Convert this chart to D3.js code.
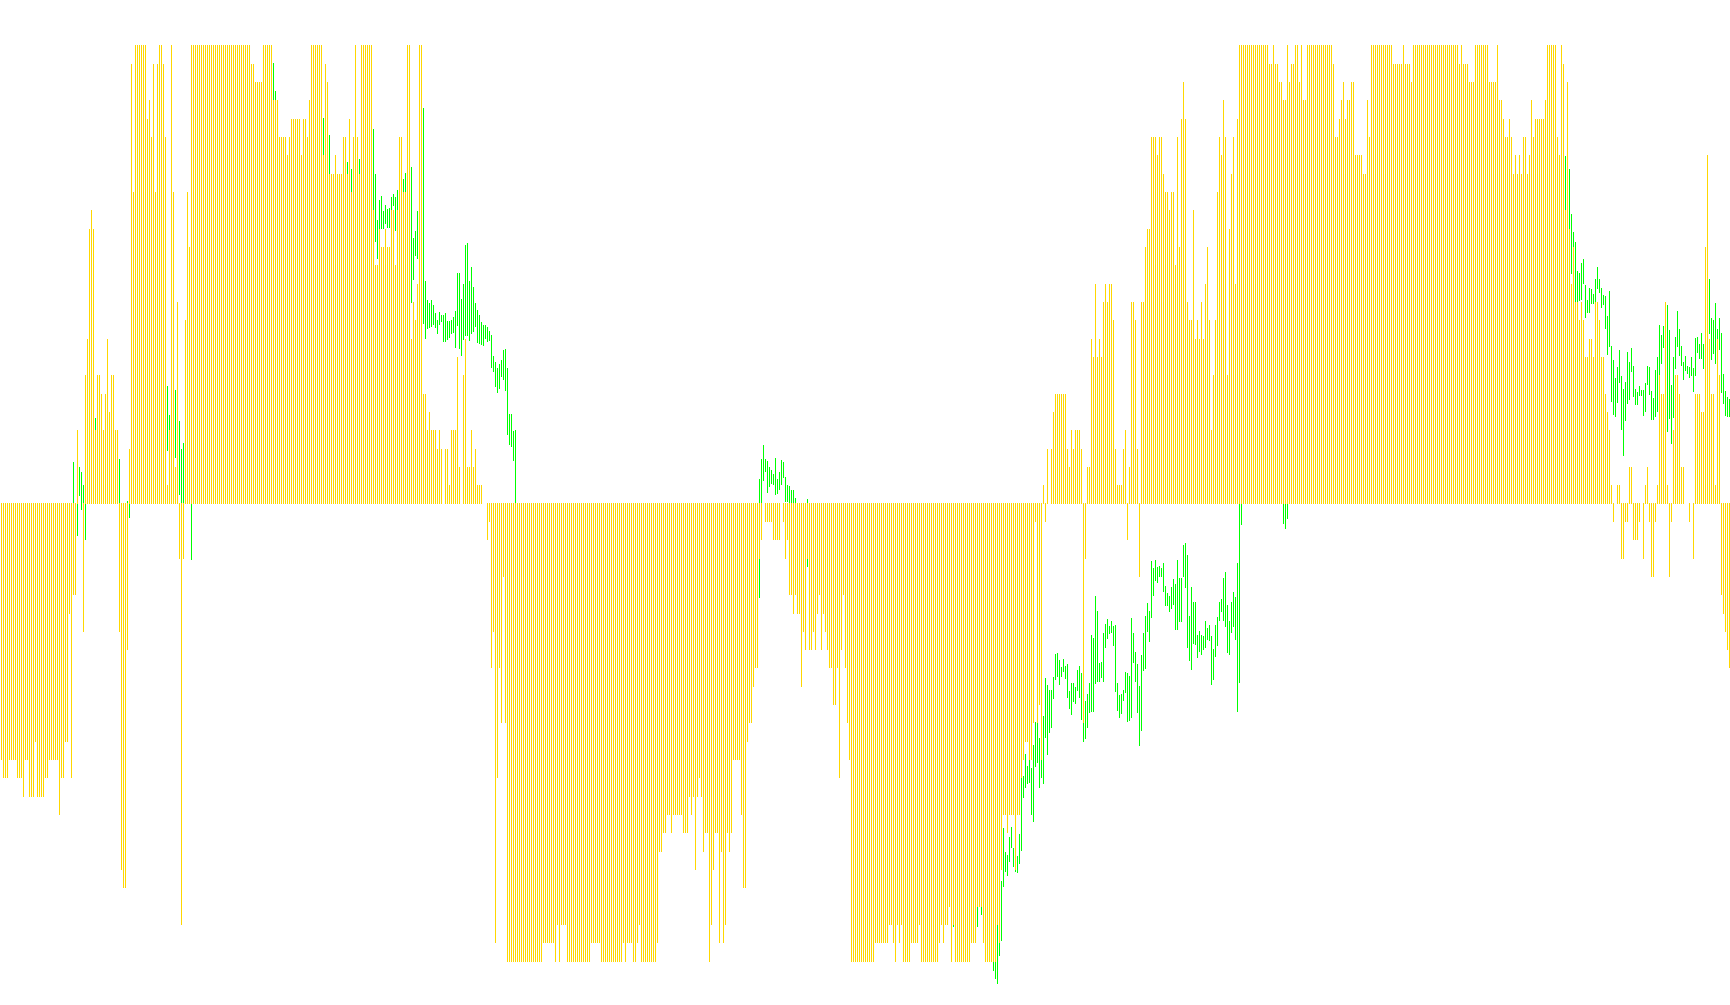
<!DOCTYPE html>
<html><head><meta charset="utf-8">
<script src="https://cdn.jsdelivr.net/npm/d3@7"></script>
<style>html,body{margin:0;padding:0;background:#fff}svg{display:block}</style>
</head><body><svg id="c" width="1730" height="1005"></svg>
<script>
// Oscillator value of every bar, in steps (+25 / -25 are the clipped limits)
const yellowLevels = [
-14,-15,-15,-15,-14,-14,-14,-14,-15,-15,-15,-16,-14,-14,-16,-16,-16,-13,-16,-16,-16,-16,-15,-15,-14,-14,-14,-14,-14,-17,-15,-15,-13,-13,-6,-15,-5,-5,
4,0,0,-7,7,9,15,16,15,4,7,7,6,4,6,9,5,7,7,4,4,-7,-20,-21,-21,-8,3,24,17,
25,25,25,25,25,25,21,22,20,24,17,24,25,25,24,20,1,4,25,17,2,11,-3,-23,-3,10,17,14,
25,25,25,25,25,25,25,25,25,25,25,25,25,25,25,25,25,25,25,25,25,25,25,25,25,25,25,25,25,25,
24,24,23,23,23,
23,25,25,25,25,25,22,22,22,20,20,20,20,19,20,21,21,21,21,21,19,21,21,20,22,25,25,25,25,25,25,
19,24,23,18,18,18,19,18,18,18,20,20,18,21,17,20,25,20,18,25,25,25,25,25,25,
16,13,13,15,14,14,15,14,14,16,16,13,16,20,20,17,17,25,25,9,11,10,12,25,25,
6,6,4,5,4,4,4,3,4,3,0,3,3,1,4,4,4,8,2,0,7,9,2,2,4,2,3,1,1,1,0,0,
-2,-1,-9,-7,-24,-15,-9,-12,-4,-12,
-25,-25,-25,-25,-25,-25,-25,-25,-25,-25,-25,-25,-25,-25,-25,-25,-25,-25,
-24,-24,-24,-24,-24,-24,-25,-23,-25,-23,-23,-23,
-25,-25,-25,-25,-25,-25,-25,-25,-25,-25,-25,-25,
-24,-24,-24,-24,-24,
-25,-25,-25,-25,-25,-25,-25,-25,-25,-25,-25,
-24,-25,-24,-24,-24,-25,-25,-24,-23,
-25,-25,-25,-25,-25,-25,-25,-25,
-24,-19,-19,-18,-18,-17,-17,-18,-17,-17,-17,-17,-17,-18,-18,-18,-16,-17,-16,-20,-16,-15,-16,-19,-18,-18,-25,-23,-20,-18,-18,-24,-19,-24,-23,-18,-19,-18,-14,-14,-14,-14,
-17,-21,-21,-13,-12,-12,-10,-9,-9,-3,-2,0,-1,-1,-1,-1,-2,-2,-2,-2,0,-1,-3,-2,-5,-5,-6,-5,-6,-6,-10,-7,-8,-3,-8,-8,-7,-8,-6,-5,-8,-6,-7,-8,-9,-9,-11,-11,-9,-15,-8,-5,-9,-12,-14,
-25,-25,-25,-25,-25,-25,-25,-25,-25,-25,-25,-25,
-24,-24,-24,-24,-24,-24,-24,-23,-23,-24,-25,-23,-24,-23,
-25,-25,-25,-25,-24,-24,-24,-24,-23,
-25,-25,-25,-25,-25,-25,-25,-25,-25,
-24,-23,-24,-23,-23,-22,-25,-23,
-25,-25,-25,-25,-25,-25,-25,-25,
-24,-24,-24,-22,-22,-22,-24,
-25,-25,-25,-25,-25,-25,
-23,-24,
-20,-17,-17,-18,-17,-17,-17,-20,-17,-17,-15,-14,-13,-13,-14,-14,-12,-1,-12,-11,-14,1,-1,3,0,3,
5,6,6,6,6,6,6,3,2,4,3,4,4,4,3,-12,-3,2,2,9,8,12,8,9,8,11,12,11,12,12,10,3,1,1,1,3,4,-2,2,11,11,10,3,-4,11,11,14,15,15,20,20,20,19,20,20,18,17,17,16,17,17,13,20,14,21,23,21,11,10,10,16,9,10,9,11,9,12,14,10,4,7,10,17,20,19,22,20,7,15,18,20,12,21,
25,25,25,25,25,25,25,25,25,25,25,25,25,25,25,
24,24,25,24,24,23,23,22,22,25,23,24,24,25,25,23,25,22,22,
25,25,25,25,25,25,25,25,25,25,25,25,25,
24,20,20,21,22,23,21,22,22,23,23,19,19,19,19,18,18,22,20,
25,25,25,25,25,25,25,25,25,25,25,
24,24,24,24,24,25,24,24,24,23,
25,25,25,25,25,25,25,25,25,25,25,25,25,25,25,25,25,25,25,25,25,25,25,
24,25,24,24,24,23,23,23,
25,25,25,25,25,25,25,
23,23,23,23,25,22,22,21,20,20,21,20,18,19,18,19,18,20,20,18,19,22,20,21,21,21,21,21,22,
25,25,25,25,25,
20,19,25,24,16,23,15,12,14,11,11,10,11,10,8,8,9,9,8,11,11,10,8,8,6,5,4,1,-1,0,1,1,-3,-3,-1,-1,2,2,-2,-2,-2,-1,0,-3,1,2,-1,-4,-4,-1,1,7,6,6,11,1,-4,-1,4,7,7,6,2,2,0,0,-1,0,-3,6,6,6,5,5,14,19,9,6,6,1,9,7,-5,-6,-7,-8,-9
];
// High-low ranges of the second series, only where they show; raw unit = 1/55 step
const greenIndex = [36,38,39,40,41,42,47,59,63,64,83,84,87,89,90,91,95,
136,137,161,164,173,175,179,186,187,188,189,190,191,192,193,194,195,196,197,198,201,202,205,206,207,208,
211,212,213,214,215,216,217,218,219,220,221,222,223,224,225,226,227,228,229,230,231,232,233,234,235,236,237,238,239,240,241,242,243,244,245,246,247,248,249,250,251,252,253,254,255,256,257,
379,380,381,382,383,384,385,386,387,388,389,390,391,392,393,394,395,396,397,403,476,488,490,496,497,498,499,
500,501,502,503,504,505,506,507,508,509,510,511,512,513,514,515,516,517,518,519,520,521,522,523,524,525,526,527,528,529,530,531,532,533,534,535,536,537,538,539,540,541,542,543,544,545,546,547,548,549,550,551,552,553,554,555,556,557,558,559,560,561,562,563,564,565,566,567,568,569,570,571,572,573,574,575,576,577,578,579,580,581,582,583,584,585,586,587,588,589,590,591,592,593,594,595,596,597,598,599,600,601,602,603,604,605,606,607,608,609,610,611,612,613,614,615,616,617,618,619,620,641,642,643,
782,784,785,786,787,788,789,790,791,792,793,794,795,796,797,798,799,800,801,802,803,804,805,806,807,808,809,810,811,812,813,814,815,816,817,818,819,820,821,822,823,824,825,826,827,828,829,830,831,833,834,835,836,837,838,839,840,841,842,843,844,845,846,847,848,849,850,851,854,855,856,857,858,859,860,861,862,863,864];
const greenHigh = [125,0,110,95,56,0,257,134,8,0,353,266,341,248,164,182,0,
1322,1238,1157,1106,1025,1004,1034,1124,989,851,911,923,878,896,884,887,920,929,920,941,974,992,1010,797,818,878,
1187,668,611,602,611,596,572,551,575,566,566,572,548,548,551,560,578,692,692,614,659,776,782,668,710,650,602,581,566,545,536,536,530,518,506,443,425,407,419,431,461,464,407,269,269,218,221,
73,133,175,133,127,109,100,88,136,73,94,130,124,79,55,52,40,40,16,13,-1265,-1210,-1211,-1375,-1375,-1265,-1319,
-1133,-974,-1046,-1055,-1001,-971,-1034,-1100,-1058,-992,-824,-818,-752,-788,-770,-794,-725,-656,-659,-704,-770,-638,-524,-545,-560,-560,-521,-452,-449,-470,-491,-467,-488,-482,-563,-539,-539,-551,-500,-488,-509,-659,-593,-572,-539,-395,-404,-278,-323,-479,-476,-389,-362,-347,-368,-353,-368,-365,-539,-575,-572,-560,-506,-509,-518,-344,-389,-446,-482,-548,-455,-389,-338,-299,-323,-173,-194,-170,-191,-188,-194,-179,-248,-269,-278,-251,-227,-242,-170,-224,-224,-125,-119,-155,-338,-251,-296,-296,-395,-383,-395,-398,-353,-374,-365,-398,-437,-365,-341,-296,-287,-224,-206,-305,-353,-296,-266,-281,-179,0,0,0,0,0,
1043,1004,869,815,785,698,692,722,734,656,611,647,644,629,674,710,674,647,626,623,563,638,473,431,377,410,461,383,344,365,455,425,467,413,344,335,353,341,341,362,413,410,338,317,401,440,536,506,533,596,521,356,440,500,578,524,473,425,443,413,410,440,407,497,500,479,512,479,674,557,551,602,524,557,512,389,338,320,314];
const greenLow = [0,-98,24,-20,0,-110,218,0,0,-44,158,218,137,26,0,0,-170,
1211,1211,1046,989,989,935,989,881,785,734,824,824,824,839,827,827,881,893,818,881,935,935,602,671,743,734,
539,494,524,527,530,536,527,509,536,545,485,485,491,497,509,512,467,533,464,443,491,503,503,488,509,515,530,482,479,476,473,494,485,488,407,395,350,332,344,380,371,338,206,176,170,128,2,
-284,0,67,94,31,49,58,55,25,28,40,55,76,4,4,0,0,0,0,-190,-1270,-1270,-1235,-1403,-1427,-1442,-1358,
-1313,-1151,-1106,-1118,-1076,-1034,-1091,-1106,-1109,-1082,-1043,-884,-854,-842,-839,-935,-956,-791,-779,-854,-824,-842,-704,-755,-689,-674,-587,-530,-521,-545,-521,-506,-527,-584,-617,-635,-596,-602,-563,-584,-650,-716,-707,-674,-629,-626,-626,-542,-536,-536,-524,-536,-434,-407,-392,-389,-428,-566,-623,-644,-632,-593,-569,-656,-653,-644,-479,-536,-629,-728,-683,-503,-497,-386,-416,-344,-278,-233,-239,-221,-221,-266,-308,-308,-326,-317,-305,-380,-380,-356,-356,-221,-254,-434,-473,-500,-422,-425,-464,-446,-455,-440,-434,-410,-413,-545,-530,-461,-428,-353,-326,-353,-371,-449,-455,-389,-371,-410,-626,-539,-65,-60,-75,-45,
881,824,689,770,605,605,608,611,659,557,572,572,599,599,605,644,632,587,596,524,446,470,305,266,260,302,362,221,143,248,299,311,395,320,296,296,323,323,263,275,356,326,251,251,260,275,383,419,467,215,254,179,257,404,470,443,413,371,398,389,377,383,335,383,452,434,434,404,509,431,449,419,494,461,332,299,263,260,260];
const rawPerStep = 55;

const colorYellow = "#FFD700", colorGreen = "#00FF00";

const x = d3.scaleLinear().domain([0, 865]).range([1, 1731]);
const y = d3.scaleLinear().domain([-25, 25]).range([961.7, 45.4]);
const py = v => Math.round(y(v));
const svg = d3.select("#c").attr("shape-rendering", "crispEdges");

const green = greenIndex.map((idx, k) => ({ idx, hi: greenHigh[k] / rawPerStep, lo: greenLow[k] / rawPerStep }));
svg.append("g").selectAll("rect").data(green).join("rect")
  .attr("x", d => x(d.idx)).attr("width", 1)
  .attr("y", d => py(d.hi)).attr("height", d => Math.max(1, py(d.lo) - py(d.hi)))
  .attr("fill", colorGreen);

const bars = yellowLevels.map((v, idx) => ({ idx, v })).filter(d => d.v !== 0);
svg.append("g").selectAll("rect").data(bars).join("rect")
  .attr("x", d => x(d.idx)).attr("width", 1)
  .attr("y", d => d.v > 0 ? py(d.v) : py(0) - 1)
  .attr("height", d => d.v > 0 ? py(0) - py(d.v) : py(d.v) - py(0) + 1)
  .attr("fill", colorYellow);
</script></body></html>
